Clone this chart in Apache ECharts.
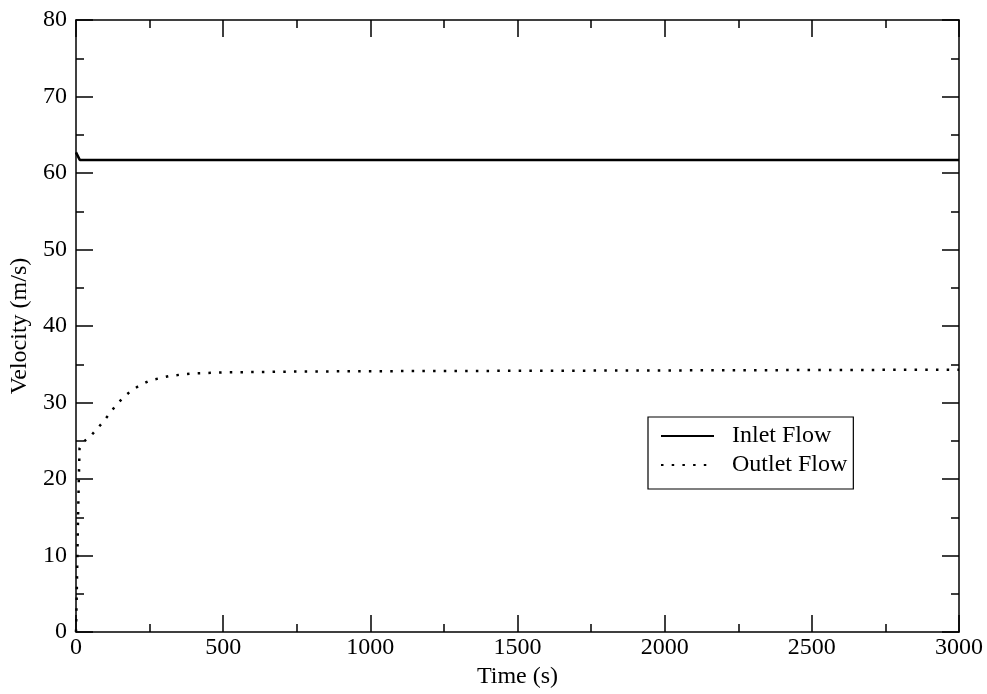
<!DOCTYPE html>
<html>
<head>
<meta charset="utf-8">
<script src="https://cdn.jsdelivr.net/npm/echarts@6/dist/echarts.min.js"></script>
<style>html,body{margin:0;padding:0;background:#fff;}#c{width:987px;height:694px;}</style>
</head>
<body>
<div id="c"></div>
<script>
const seriesNames = ['Inlet Flow', 'Outlet Flow'];
const inletTime = [0, 4, 13, 500, 1000, 1500, 2000, 2500, 3000];
const inletVelocity = [62.7, 62.5, 61.7, 61.7, 61.7, 61.7, 61.7, 61.7, 61.7];
const outletTime = [0, 3, 6, 9, 12, 19, 47, 70, 93, 115, 137, 162, 189, 219, 252, 286, 321, 357, 394, 500, 750, 1000, 1500, 2000, 2500, 3000];
const outletVelocity = [0, 6, 13, 19, 24, 24.7, 25.5, 26.5, 27.5, 28.6, 29.7, 30.7, 31.6, 32.3, 32.9, 33.2, 33.5, 33.65, 33.8, 33.95, 34.05, 34.1, 34.15, 34.2, 34.25, 34.3];
const xTicks = [0, 500, 1000, 1500, 2000, 2500, 3000];
const yTicks = [0, 10, 20, 30, 40, 50, 60, 70, 80];

const FONT = 'Liberation Serif';
const pair = (xs, ys) => xs.map((x, i) => [x, ys[i]]);
const axisCommon = {
  axisLine: { show: true, onZero: false, lineStyle: { color: '#000', width: 1.5 } },
  axisTick: { show: true, inside: true, length: 17, lineStyle: { color: '#000', width: 1.5 } },
  minorTick: { show: true, splitNumber: 2, length: 8, lineStyle: { color: '#000', width: 1.5 } },
  splitLine: { show: false },
  minorSplitLine: { show: false }
};
const chart = echarts.init(document.getElementById('c'));
chart.setOption({
  animation: false,
  backgroundColor: '#fff',
  grid: { left: 76, right: 28, top: 20, bottom: 56, containLabel: false },
  legend: {
    left: 648, top: 417,
    orient: 'vertical',
    data: seriesNames,
    backgroundColor: '#fff',
    borderColor: '#000', borderWidth: 1.2, borderRadius: 0,
    padding: [7, 6, 12, 12],
    itemWidth: 53, itemHeight: 20, itemGap: 5,
    itemStyle: { color: 'rgba(0,0,0,0)', borderColor: 'rgba(0,0,0,0)', borderWidth: 0 },
    textStyle: { fontFamily: FONT, fontSize: 24, color: '#000', padding: [0, 0, 0, 13] }
  },
  xAxis: [
    Object.assign({
      type: 'value', min: xTicks[0], max: xTicks[xTicks.length - 1], interval: xTicks[1] - xTicks[0],
      position: 'bottom',
      name: 'Time (s)', nameLocation: 'middle', nameGap: 30,
      nameTextStyle: { fontFamily: FONT, fontSize: 24, color: '#000' },
      axisLabel: { show: true, margin: 4, fontFamily: FONT, fontSize: 24, color: '#000', showMinLabel: true, showMaxLabel: true, formatter: v => String(v) }
    }, axisCommon),
    Object.assign({
      type: 'value', min: xTicks[0], max: xTicks[xTicks.length - 1], interval: xTicks[1] - xTicks[0],
      position: 'top', axisLabel: { show: false }
    }, axisCommon)
  ],
  yAxis: [
    Object.assign({
      type: 'value', min: yTicks[0], max: yTicks[yTicks.length - 1], interval: yTicks[1] - yTicks[0],
      position: 'left',
      name: 'Velocity (m/s)', nameLocation: 'middle', nameGap: 43,
      nameTextStyle: { fontFamily: FONT, fontSize: 24, color: '#000' },
      axisLabel: { show: true, margin: 9, fontFamily: FONT, fontSize: 24, color: '#000', formatter: v => String(v) }
    }, axisCommon),
    Object.assign({
      type: 'value', min: yTicks[0], max: yTicks[yTicks.length - 1], interval: yTicks[1] - yTicks[0],
      position: 'right', axisLabel: { show: false }
    }, axisCommon)
  ],
  series: [
    {
      name: seriesNames[0], type: 'line', xAxisIndex: 0, yAxisIndex: 0,
      data: pair(inletTime, inletVelocity),
      showSymbol: false, symbol: 'none',
      lineStyle: { color: '#000', width: 2.6, type: 'solid' },
      itemStyle: { color: '#000' }
    },
    {
      name: seriesNames[1], type: 'line', xAxisIndex: 0, yAxisIndex: 0,
      data: pair(outletTime, outletVelocity),
      showSymbol: false, symbol: 'none',
      lineStyle: { color: '#000', width: 2.5, type: [2.5, 8.2], cap: 'butt' },
      itemStyle: { color: '#000' }
    }
  ]
});
</script>
</body>
</html>
